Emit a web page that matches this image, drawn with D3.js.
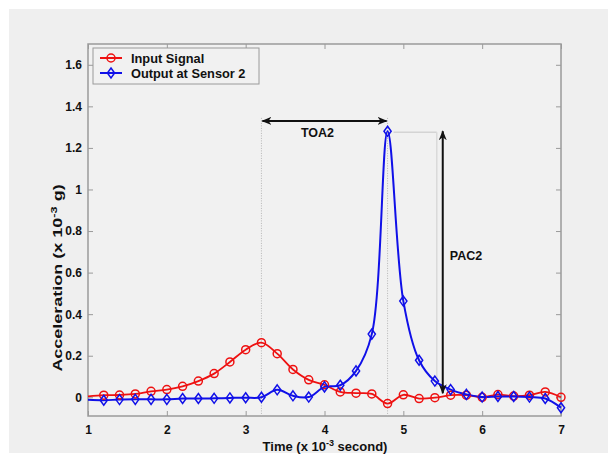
<!DOCTYPE html>
<html>
<head>
<meta charset="utf-8">
<script src="https://cdn.jsdelivr.net/npm/d3@7"></script>
<style>
  html, body { margin: 0; padding: 0; background: #ffffff; }
  svg { display: block; }
  text { font-family: Arial, "Liberation Sans", sans-serif; font-weight: bold; fill: #111; }
</style>
</head>
<body>
<svg id="chart" width="608" height="461"></svg>
<script>
// Sample times (x 10^-3 s)
const time = [1.0, 1.2, 1.4, 1.6, 1.8, 2.0, 2.2, 2.4, 2.6, 2.8, 3.0, 3.2, 3.4, 3.6, 3.8,
              4.0, 4.2, 4.4, 4.6, 4.8, 5.0, 5.2, 5.4, 5.6, 5.8, 6.0, 6.2, 6.4, 6.6, 6.8, 7.0];
// Input signal acceleration (x 10^-3 g)
const inputSignal = [0.004, 0.010, 0.011, 0.016, 0.029, 0.037, 0.053, 0.078, 0.114, 0.170, 0.229,
                     0.263, 0.210, 0.134, 0.084, 0.060, 0.026, 0.020, 0.016, -0.030, 0.012,
                     -0.006, -0.002, 0.010, 0.010, 0.000, 0.013, 0.006, 0.010, 0.026, 0.000];
// Output measured at sensor 2
const outputSensor2 = [-0.012, -0.014, -0.011, -0.010, -0.010, -0.010, -0.006, -0.006, -0.005, -0.003, -0.002,
                       0.000, 0.036, 0.007, 0.001, 0.050, 0.058, 0.127, 0.304, 1.280, 0.463,
                       0.178, 0.078, 0.037, 0.014, 0.001, 0.004, 0.004, 0.001, -0.006, -0.050];
const xTicks = [1, 2, 3, 4, 5, 6, 7];
const yTicks = [0, 0.2, 0.4, 0.6, 0.8, 1, 1.2, 1.4, 1.6];
const seriesNames = ["Input Signal", "Output at Sensor 2"];
// Annotation anchors in data units
const toaStart = 3.2, toaEnd = 4.8, toaLevel = 1.33;
const pacTime = 5.5, pacTop = 1.28, pacBottom = 0.02;

const svg = d3.select("#chart");
const x = d3.scaleLinear().domain([1, 7]).range([88, 561]);
const y = d3.scaleLinear().domain([-0.09, 1.7]).range([416, 44]);

// Figure and axes backgrounds
svg.append("rect").attr("x", 9).attr("y", 9).attr("width", 599).attr("height", 444).attr("fill", "#efefef");
svg.append("rect").attr("x", x(1)).attr("y", y(1.7)).attr("width", x(7) - x(1)).attr("height", y(-0.09) - y(1.7))
   .attr("fill", "#f1f1f1");

const defs = svg.append("defs");
defs.append("marker").attr("id", "arrow").attr("viewBox", "0 0 10 10").attr("refX", 9).attr("refY", 5)
  .attr("markerWidth", 5).attr("markerHeight", 5).attr("orient", "auto-start-reverse")
  .append("path").attr("d", "M0,1 L10,5 L0,9 L3,5 Z").attr("fill", "#111");

// Ticks pointing inward on all sides, labels bottom/left
const axisColor = "#9a9a9a";
const gx = svg.append("g").attr("transform", `translate(0,${y(-0.09)})`)
  .call(d3.axisBottom(x).tickValues(xTicks).tickFormat(d3.format("d")).tickSizeInner(-5).tickSizeOuter(0).tickPadding(9));
const gy = svg.append("g").attr("transform", `translate(${x(1)},0)`)
  .call(d3.axisLeft(y).tickValues(yTicks).tickFormat(d => d === 0 || d === 1 ? String(d) : d3.format(".1f")(d))
        .tickSizeInner(-5).tickSizeOuter(0).tickPadding(6));
const gxt = svg.append("g").attr("transform", `translate(0,${y(1.7)})`)
  .call(d3.axisTop(x).tickValues(xTicks).tickFormat("").tickSizeInner(-5).tickSizeOuter(0));
const gyr = svg.append("g").attr("transform", `translate(${x(7)},0)`)
  .call(d3.axisRight(y).tickValues(yTicks).tickFormat("").tickSizeInner(-5).tickSizeOuter(0));
[gx, gy, gxt, gyr].forEach(g => {
  g.select(".domain").remove();
  g.selectAll("line").attr("stroke", axisColor);
  g.selectAll("text").attr("font-size", 12).attr("font-weight", "bold")
    .attr("font-family", "Arial, 'Liberation Sans', sans-serif").attr("fill", "#111");
});
svg.append("rect").attr("x", x(1)).attr("y", y(1.7)).attr("width", x(7) - x(1)).attr("height", y(-0.09) - y(1.7))
   .attr("fill", "none").attr("stroke", axisColor).attr("stroke-width", 1.5);

// Annotation guides
const guide = svg.append("g");
guide.append("line").attr("x1", x(toaStart)).attr("x2", x(toaStart)).attr("y1", y(toaLevel) - 3).attr("y2", y(-0.09))
  .attr("stroke", "#b5b5b5").attr("stroke-width", 1).attr("stroke-dasharray", "1,1.5");
guide.append("line").attr("x1", x(toaEnd)).attr("x2", x(toaEnd)).attr("y1", y(toaLevel) - 3).attr("y2", y(-0.09))
  .attr("stroke", "#b5b5b5").attr("stroke-width", 1).attr("stroke-dasharray", "1,1.5");
guide.append("line").attr("x1", x(toaEnd) + 6).attr("x2", x(pacTime) - 6).attr("y1", y(pacTop) + 1).attr("y2", y(pacTop) + 1)
  .attr("stroke", "#d4d4d4").attr("stroke-width", 1.5);
guide.append("line").attr("x1", x(pacTime) - 6).attr("x2", x(pacTime) - 6).attr("y1", y(pacTop) + 1).attr("y2", y(0.05))
  .attr("stroke", "#dadada").attr("stroke-width", 1.5);

// Series lines (smoothed) and markers
const line = d3.line().x(d => x(d[0])).y(d => y(d[1])).curve(d3.curveCatmullRom.alpha(0.5));
const inputPts = time.map((t, i) => [t, inputSignal[i]]);
const outputPts = time.map((t, i) => [t, outputSensor2[i]]);
svg.append("path").datum(inputPts).attr("d", line).attr("fill", "none").attr("stroke", "#ee1111").attr("stroke-width", 1.8);
svg.append("path").datum(outputPts).attr("d", line).attr("fill", "none").attr("stroke", "#1010e8").attr("stroke-width", 2);

svg.append("g").selectAll("circle").data(inputPts.filter(d => d[0] > 1)).join("circle")
  .attr("cx", d => x(d[0])).attr("cy", d => y(d[1])).attr("r", 4)
  .attr("fill", "none").attr("stroke", "#ee1111").attr("stroke-width", 1.5);
const diamond = "M0,-5 L3.6,0 L0,5 L-3.6,0 Z";
svg.append("g").selectAll("path").data(outputPts.filter(d => d[0] > 1)).join("path")
  .attr("transform", d => `translate(${x(d[0])},${y(d[1])})`).attr("d", diamond)
  .attr("fill", "none").attr("stroke", "#1010e8").attr("stroke-width", 1.5);

// Arrows and labels
svg.append("line").attr("x1", x(toaStart) + 1).attr("x2", x(toaEnd) - 1).attr("y1", y(toaLevel)).attr("y2", y(toaLevel))
  .attr("stroke", "#111").attr("stroke-width", 2)
  .attr("marker-start", "url(#arrow)").attr("marker-end", "url(#arrow)");
svg.append("text").attr("x", (x(toaStart) + x(toaEnd)) / 2 - 7).attr("y", y(toaLevel) + 16)
  .attr("text-anchor", "middle").attr("font-size", 12.5).text("TOA2");
svg.append("line").attr("x1", x(pacTime)).attr("x2", x(pacTime)).attr("y1", y(pacTop)).attr("y2", y(pacBottom))
  .attr("stroke", "#111").attr("stroke-width", 2)
  .attr("marker-start", "url(#arrow)").attr("marker-end", "url(#arrow)");
svg.append("text").attr("x", x(pacTime) + 7).attr("y", 260).attr("font-size", 12.5).text("PAC2");

// Legend
const lg = svg.append("g");
lg.append("rect").attr("x", 93).attr("y", 48).attr("width", 166).attr("height", 36)
  .attr("fill", "#f1f1f1").attr("stroke", "#9a9a9a").attr("stroke-width", 1);
const legendColors = ["#ee1111", "#1010e8"];
seriesNames.forEach((name, i) => {
  const ly = 58 + i * 15;
  lg.append("line").attr("x1", 100).attr("x2", 122).attr("y1", ly).attr("y2", ly)
    .attr("stroke", legendColors[i]).attr("stroke-width", 2);
  if (i === 0) {
    lg.append("circle").attr("cx", 111).attr("cy", ly).attr("r", 4).attr("fill", "none")
      .attr("stroke", legendColors[i]).attr("stroke-width", 1.5);
  } else {
    lg.append("path").attr("transform", `translate(111,${ly})`).attr("d", diamond).attr("fill", "none")
      .attr("stroke", legendColors[i]).attr("stroke-width", 1.5);
  }
  lg.append("text").attr("x", 131).attr("y", ly + 4.5).attr("font-size", 12.8).text(name);
});

// Axis titles
const xt = svg.append("text").attr("x", 325).attr("y", 451).attr("text-anchor", "middle").attr("font-size", 13);
xt.append("tspan").text("Time (x 10");
xt.append("tspan").attr("dy", -5).attr("font-size", 9).text("-3");
xt.append("tspan").attr("dy", 5).text(" second)");
const yt = svg.append("text").attr("transform", "translate(62,278) rotate(-90) scale(1.5,1)")
  .attr("text-anchor", "middle").attr("font-size", 12);
yt.append("tspan").text("Acceleration (x 10");
yt.append("tspan").attr("dy", -5).attr("font-size", 8.5).text("-3");
yt.append("tspan").attr("dy", 5).text(" g)");
</script>
</body>
</html>
